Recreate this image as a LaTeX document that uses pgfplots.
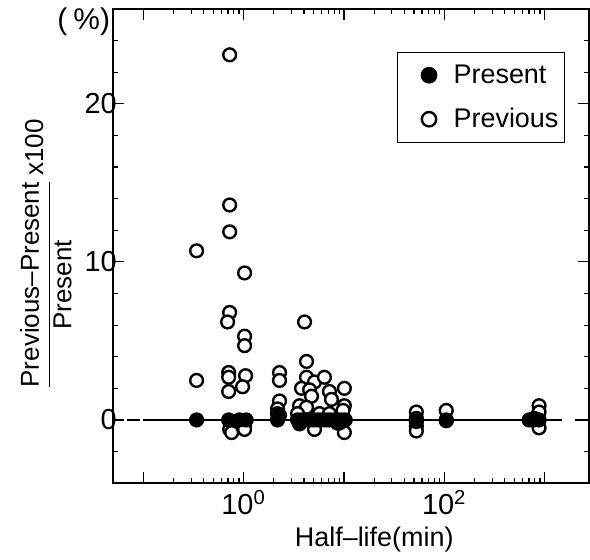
\documentclass[border=0pt]{standalone}
\usepackage{pgfplots}
\pgfplotsset{compat=1.18}
\usepackage{fontspec}
\setmainfont{Liberation Sans}
\begin{document}
\begin{tikzpicture}
\begin{axis}[
  name=ax,
  scale only axis,
  width=238.5pt, height=237.5pt,
  xmode=log, xmin=0.0497, xmax=2770,
  ymin=-4, ymax=26,
  clip=false,
  xtick={0.1,1,10,100,1000},
  xticklabels={,10\textsuperscript{0},,10\textsuperscript{2},},
  ytick={0,10,20},
  yticklabels={0,10,20},
  minor ytick={-2,2,4,6,8,12,14,16,18,22,24},
  major tick length=5.5pt, minor tick length=2.5pt,
  tick style={black, line width=0.6pt},
  axis line style={line width=1pt},
  tick label style={font=\fontsize{14.5}{16}\selectfont},
  yticklabel style={xshift=5.5pt},
  xlabel={Half--life(min)},
  xlabel style={font=\fontsize{13.5}{16}\selectfont, at={(rel axis cs:0.549,0)}, anchor=center, yshift=-28pt},
  ylabel={$\displaystyle\frac{\mbox{Previous--Present}}{\mbox{Present}}$\,\raisebox{6pt}{x100}},
  ylabel style={font=\fontsize{13}{15}\selectfont, at={(rel axis cs:-0.1405,0.482)}, anchor=center},
  legend style={at={(rel axis cs:0.9497,0.9095)}, anchor=north east, draw=black, line width=0.6pt,
    font=\fontsize{13.5}{15}\selectfont, inner xsep=1pt, inner ysep=4pt, row sep=7pt},
  legend cell align=left,
  legend image code/.code={\path[draw=none,fill=none] (-14.8pt,-1pt) rectangle (10.3pt,1pt); \draw[#1, mark size=3.6pt] plot coordinates {(0pt,0pt)};},
  reverse legend,
]
% zero line
\addplot[black, line width=0.8pt, forget plot] coordinates {(0.0685,0) (0.092,0)};
\addplot[black, line width=0.8pt, forget plot] coordinates {(0.1,0) (1493,0)};
\addplot[black, line width=0.8pt, forget plot] coordinates {(2000,0) (2770,0)};
% Previous
\addplot[only marks, mark=*, mark size=3.2pt, mark options={fill=white, draw=black, line width=1.2pt}] coordinates {
(0.340,10.7) (0.340,2.5)
(0.726,23.1) (0.726,13.6) (0.726,11.9) (0.726,6.8) (0.693,6.2) (0.71,3.0) (0.71,2.7) (0.71,1.8) (0.726,-0.6) (0.760,-0.8)
(1.023,9.3) (1.023,5.3) (1.023,4.7) (1.047,2.8) (0.977,2.1) (1.023,-0.2) (1.023,-0.4) (1.023,-0.6)
(2.28,3.0) (2.28,2.5) (2.28,1.2) (2.18,0.7) (2.18,0.4)
(4.05,6.2) (4.24,3.7) (4.24,2.7) (5.09,2.4) (6.39,2.7) (3.78,2.0) (4.55,1.9) (7.17,1.8) (10.1,2.0)
(4.75,1.5) (7.51,1.3) (3.61,0.9) (4.24,0.8) (10.1,0.9) (9.8,0.6) (3.45,0.4) (5.70,0.4) (7.17,0.4)
(5.09,-0.6) (10.1,-0.8) (3.61,-0.25) (8.61,-0.2)
(52.7,0.5) (52.7,0.1) (52.7,-0.4) (52.7,-0.7)
(104.7,0.6)
(881,0.9) (881,0.5) (881,-0.5)
};
\addlegendentry{Previous}
% Present
\addplot[only marks, mark=*, mark size=3.2pt, mark options={fill=black, draw=black, line width=1.2pt}] coordinates {
(0.340,0) (0.71,0) (0.91,0) (1.06,0)
(2.18,0) (2.28,0.3)
(3.45,0) (3.78,0) (4.15,0) (4.55,0) (5.0,0) (5.5,0) (6.0,0) (6.6,0) (7.2,0) (7.9,0) (8.6,0) (9.4,0) (10.3,0)
(3.61,-0.2) (9.0,-0.2)
(52.7,0) (52.7,-0.1)
(104.7,0) (104.7,-0.05)
(701,0) (786,0) (786,0.1) (881,0)
};
\addlegendentry{Present}
\node[font=\fontsize{15}{17}\selectfont] at (rel axis cs:-0.061,0.973) {(\hspace{3pt}\%)};
\end{axis}
\pgfresetboundingbox
\path[use as bounding box] ([shift={(-56.5pt,-38pt)}]ax.south west) rectangle ([shift={(0.5pt,4.5pt)}]ax.north east);
\end{tikzpicture}
\end{document}
